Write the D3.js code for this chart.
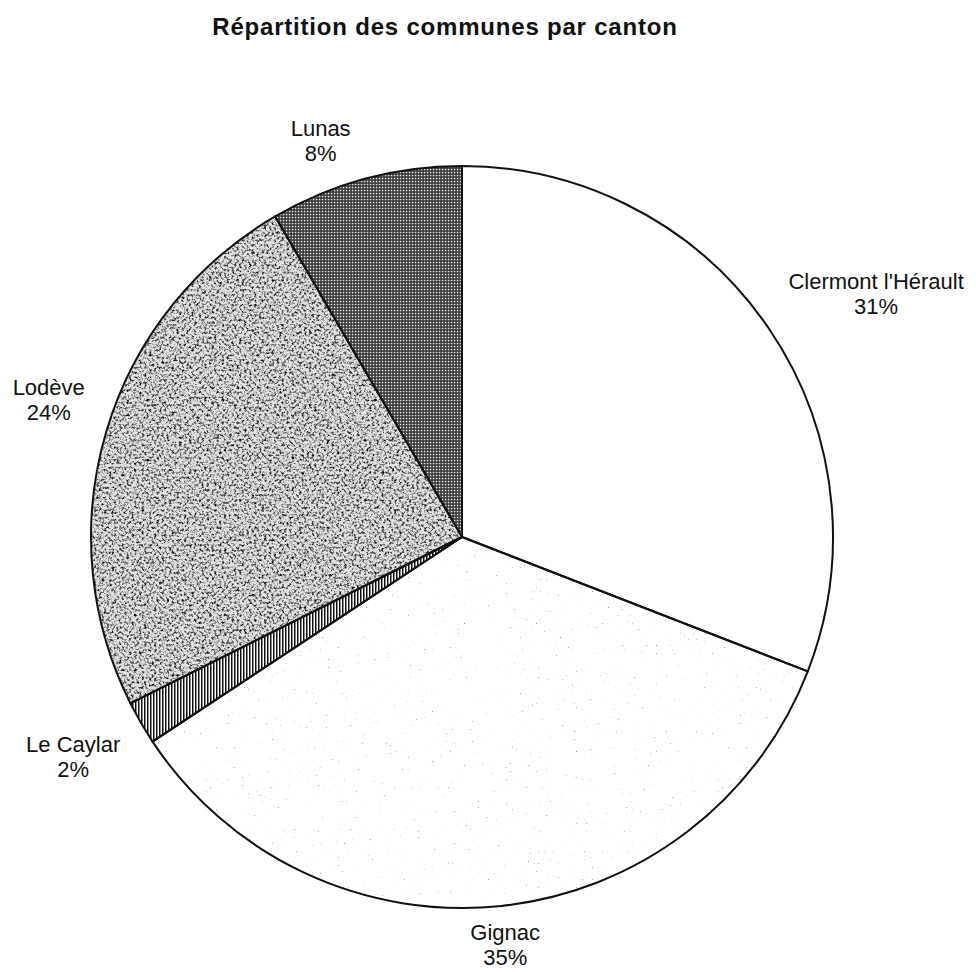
<!DOCTYPE html>
<html>
<head>
<meta charset="utf-8">
<script src="https://cdn.jsdelivr.net/npm/d3@7/dist/d3.min.js"></script>
<style>
  html, body { margin: 0; padding: 0; background: #fff; }
  svg { display: block; }
  text { font-family: "Liberation Sans", Arial, Helvetica, sans-serif; fill: #111; }
</style>
</head>
<body>
<script>
// Share of communes per canton (percent)
const cantons = ["Clermont l'Hérault", "Gignac", "Le Caylar", "Lodève", "Lunas"];
const shares = [30.9, 34.8, 1.9, 24.0, 8.4];
const title = "Répartition des communes par canton";

const W = 976, H = 972;
const cx = 462, cy = 537, R = 371;

const svg = d3.select("body").append("svg")
  .attr("width", W).attr("height", H);

const defs = svg.append("defs");

// dense cross-hatch (Lunas)
const grid = defs.append("pattern").attr("id", "grid")
  .attr("patternUnits", "userSpaceOnUse").attr("width", 3).attr("height", 3);
grid.append("rect").attr("width", 3).attr("height", 3).attr("fill", "#333");
grid.append("rect").attr("x", 0.8).attr("y", 0.8).attr("width", 1.5).attr("height", 1.5).attr("fill", "#eee");

// vertical hatch (Le Caylar)
const vl = defs.append("pattern").attr("id", "vlines")
  .attr("patternUnits", "userSpaceOnUse").attr("width", 3).attr("height", 3);
vl.append("rect").attr("width", 3).attr("height", 3).attr("fill", "#fff");
vl.append("rect").attr("x", 0).attr("width", 1.5).attr("height", 3).attr("fill", "#111");

// speckled grain used for the stippled fills
function grain(id, freq, seed, gain, offset) {
  const f = defs.append("filter").attr("id", id)
    .attr("x", 0).attr("y", 0).attr("width", 1).attr("height", 1);
  f.append("feTurbulence").attr("type", "fractalNoise")
    .attr("baseFrequency", freq).attr("numOctaves", 4).attr("seed", seed)
    .attr("result", "noise");
  f.append("feColorMatrix").attr("in", "noise").attr("type", "matrix")
    .attr("values", `0 0 0 0 0  0 0 0 0 0  0 0 0 0 0  ${gain} 0 0 0 ${offset}`)
    .attr("result", "dots");
  f.append("feComposite").attr("in", "dots").attr("in2", "SourceGraphic")
    .attr("operator", "in");
}
grain("grainMid", 0.4, 7, 2.8, -1.28);
grain("grainFaint", 0.5, 11, 4, -2.95);

const pie = d3.pie().sort(null).value(d => d);
const arcs = pie(shares);
const arc = d3.arc().innerRadius(0).outerRadius(R);

const g = svg.append("g").attr("transform", `translate(${cx},${cy})`);

const baseFill = ["#fff", "#fff", "url(#vlines)", "#e2e2e2", "url(#grid)"];
const overlay = [null, "grainFaint", null, "grainMid", null];
const overlayTone = [null, "#aaa", null, "#3a3a3a", null];

g.selectAll("path.base").data(arcs).join("path")
  .attr("class", "base")
  .attr("d", arc)
  .attr("fill", (d, i) => baseFill[i]);

g.selectAll("path.grain").data(arcs.filter((d, i) => overlay[i])).join("path")
  .attr("class", "grain")
  .attr("d", arc)
  .attr("fill", d => overlayTone[d.index])
  .attr("filter", d => `url(#${overlay[d.index]})`);

g.selectAll("path.edge").data(arcs).join("path")
  .attr("class", "edge")
  .attr("d", arc)
  .attr("fill", "none")
  .attr("stroke", "#111")
  .attr("stroke-width", 2)
  .attr("stroke-linejoin", "round");

// Labels placed outside the pie at each slice's mid-angle
const total = d3.sum(shares);
const fs = 22, capH = 0.716 * fs, lineGap = 25, gap = 10, padX = 12, padY = 8;
const ramp = v => Math.sign(v) * Math.max(0, Math.min(1, (Math.abs(v) - 0.1) / 0.12));

arcs.forEach((d, i) => {
  const a = (d.startAngle + d.endAngle) / 2;
  const ux = Math.sin(a), uy = -Math.cos(a);
  const t = g.append("text").attr("text-anchor", "middle").attr("font-size", fs);
  const l1 = t.append("tspan").text(cantons[i]);
  const l2 = t.append("tspan").text(Math.round(d.value / total * 100) + "%");
  const w = Math.max(l1.node().getComputedTextLength(), l2.node().getComputedTextLength());
  const h = capH + lineGap;
  const px = (R + gap) * ux + ramp(ux) * (w / 2 + padX);
  const py = (R + gap) * uy + ramp(uy) * (h / 2 + padY);
  const top = py - h / 2;
  l1.attr("x", px).attr("y", top + capH);
  l2.attr("x", px).attr("y", top + capH + lineGap);
});

svg.append("text")
  .attr("x", 445).attr("y", 35)
  .attr("text-anchor", "middle")
  .attr("font-size", 24).attr("font-weight", "bold")
  .attr("letter-spacing", 0.8)
  .text(title);
</script>
</body>
</html>
